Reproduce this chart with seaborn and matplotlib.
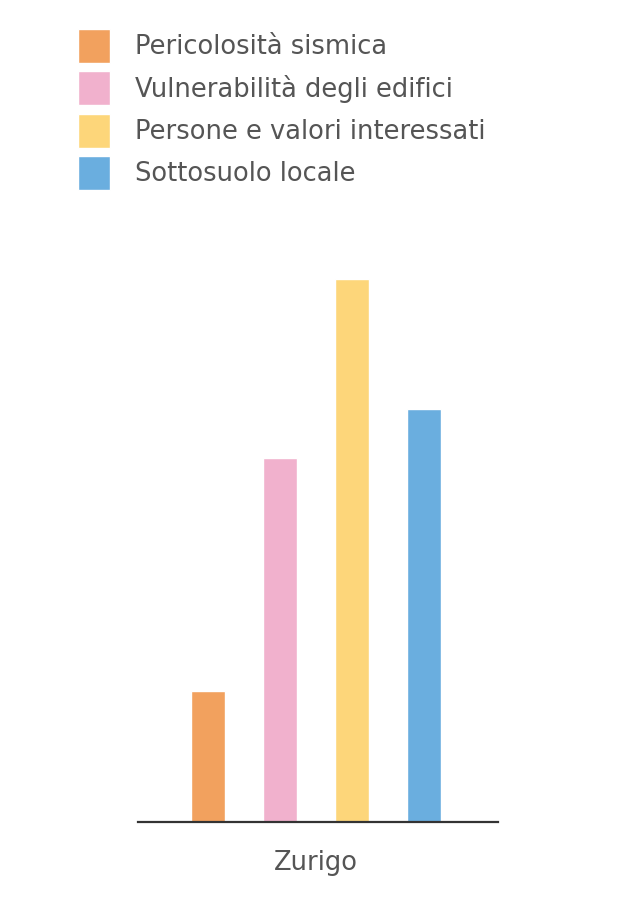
import seaborn as sns
import matplotlib.pyplot as plt
import pandas as pd

# Values (bar heights, arbitrary units)
cities = ["Zurigo"]
factors = ["Pericolosità sismica", "Vulnerabilità degli edifici",
           "Persone e valori interessati", "Sottosuolo locale"]
values = [131, 364, 543, 413]
colors = ["#F2A15E", "#F1B1CD", "#FDD67A", "#6AAEDF"]

df = pd.DataFrame({
    "city": cities * len(factors),
    "factor": factors,
    "value": values,
})

sns.set_style("white")
plt.rcParams["font.family"] = ["DejaVu Sans"]

fig = plt.figure(figsize=(6.36, 9), dpi=100)
# axes placed to match the reference (pixels: x 138-498, y 250-822)
ax = fig.add_axes([138 / 636, 78 / 900, 360 / 636, 572 / 900])

sns.barplot(data=df, x="city", y="value", hue="factor", hue_order=factors,
            palette=colors, saturation=1, width=0.8, gap=0.53, ax=ax)

ax.set_xlim(-0.494, 0.506)
ax.set_ylim(0, 572)

# Only the base line is kept
sns.despine(ax=ax, left=True)
ax.spines["bottom"].set_color("#333333")
ax.spines["bottom"].set_linewidth(1.6)
ax.set_yticks([])
ax.set_xlabel("")
ax.set_ylabel("")
ax.tick_params(axis="x", length=0, pad=20, labelsize=18.5, labelcolor="#555555")

# Legend at the top left of the figure
sns.move_legend(ax, "upper left", bbox_to_anchor=(78 / 636, 1 - 29 / 900),
                bbox_transform=fig.transFigure, title=None, frameon=False,
                fontsize=18.5, handlelength=1.23, handleheight=1.65,
                labelspacing=0.33, handletextpad=1.0, borderpad=0,
                borderaxespad=0, labelcolor="#555555")

fig.savefig("out.png", dpi=100, facecolor="white")
